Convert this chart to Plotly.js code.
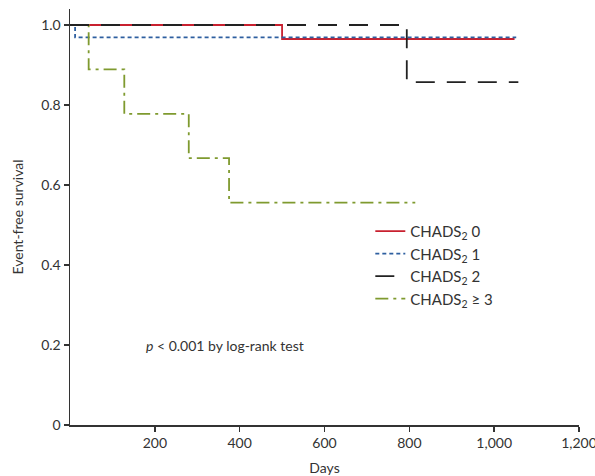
<!DOCTYPE html>
<html><head><meta charset="utf-8">
<script src="https://cdn.plot.ly/plotly-3.0.1.min.js"></script>
<style>body{margin:0;background:#fff}#c{width:595px;height:476px}</style>
</head><body><div id="c"></div>
<script>
const names = ['CHADS<sub>2</sub> 0','CHADS<sub>2</sub> 1','CHADS<sub>2</sub> 2','CHADS<sub>2</sub> ≥ 3'];
const days0 = [0, 500, 500, 1048];
const surv0 = [1.0, 1.0, 0.965, 0.965];
const days1 = [0, 12, 12, 1052];
const surv1 = [1.0, 1.0, 0.969, 0.969];
const days2 = [0, 794, 794, 1057];
const surv2 = [1.0, 1.0, 0.857, 0.857];
const days3 = [0, 44, 44, 128, 128, 280, 280, 375, 375, 814];
const surv3 = [1.0, 1.0, 0.889, 0.889, 0.778, 0.778, 0.667, 0.667, 0.556, 0.556];
const xTickVals = [200,400,600,800,1000,1200];
const xTickText = ['200','400','600','800','1,000','1,200'];
const yTickVals = [0,0.2,0.4,0.6,0.8,1.0];
const yTickText = ['0','0.2','0.4','0.6','0.8','1.0'];
const colors = ['#c8202f','#2e5fa0','#222222','#7f9a2f'];
const dashes = ['solid','4px,3px','19px,12px','13px,5px,3px,5px'];
const ysAll = [surv0,surv1,surv2,surv3];
const daysAll = [days0,days1,days2,days3];
const traces = [];
[0,1,3,2].forEach(i=>{
  traces.push({x:daysAll[i], y:ysAll[i], mode:'lines', name:names[i],
    line:{color:colors[i], width:1.8, dash:dashes[i]},
    legendrank: i+1});
});
const layout = {
  width:595, height:476,
  margin:{l:70, r:16, t:9, b:51},
  paper_bgcolor:'#fff', plot_bgcolor:'#fff',
  font:{family:'Lato, "Open Sans", sans-serif', size:14, color:'#333'},
  showlegend:true,
  legend:{x:0.59, y:0.505, xanchor:'left', yanchor:'top', font:{size:15, color:'#333'},
    traceorder:'normal', bgcolor:'rgba(0,0,0,0)', tracegroupgap:0},
  xaxis:{range:[0,1200], tickvals:xTickVals, ticktext:xTickText, ticklabeloverflow:'allow',
    showgrid:false, zeroline:false, showline:true, linecolor:'#333', linewidth:1.5,
    ticks:'outside', ticklen:5, tickcolor:'#333', tickwidth:1.5,
    title:{text:'Days', font:{size:14, color:'#333'}, standoff:14}},
  yaxis:{range:[0,1.04], tickvals:yTickVals, ticktext:yTickText,
    showgrid:false, zeroline:false, showline:true, linecolor:'#333', linewidth:1.5,
    ticks:'outside', ticklen:5, tickcolor:'#333', tickwidth:1.5,
    title:{text:'Event-free survival', font:{size:14, color:'#333'}, standoff:14}},
  annotations:[{x:0.145, y:0.19, xref:'paper', yref:'paper', xanchor:'left', yanchor:'middle', showarrow:false,
    text:'<i>p</i> < 0.001 by log-rank test', font:{size:14, color:'#333'}}]
};
Plotly.newPlot('c', traces, layout, {displayModeBar:false, staticPlot:true});
</script></body></html>
